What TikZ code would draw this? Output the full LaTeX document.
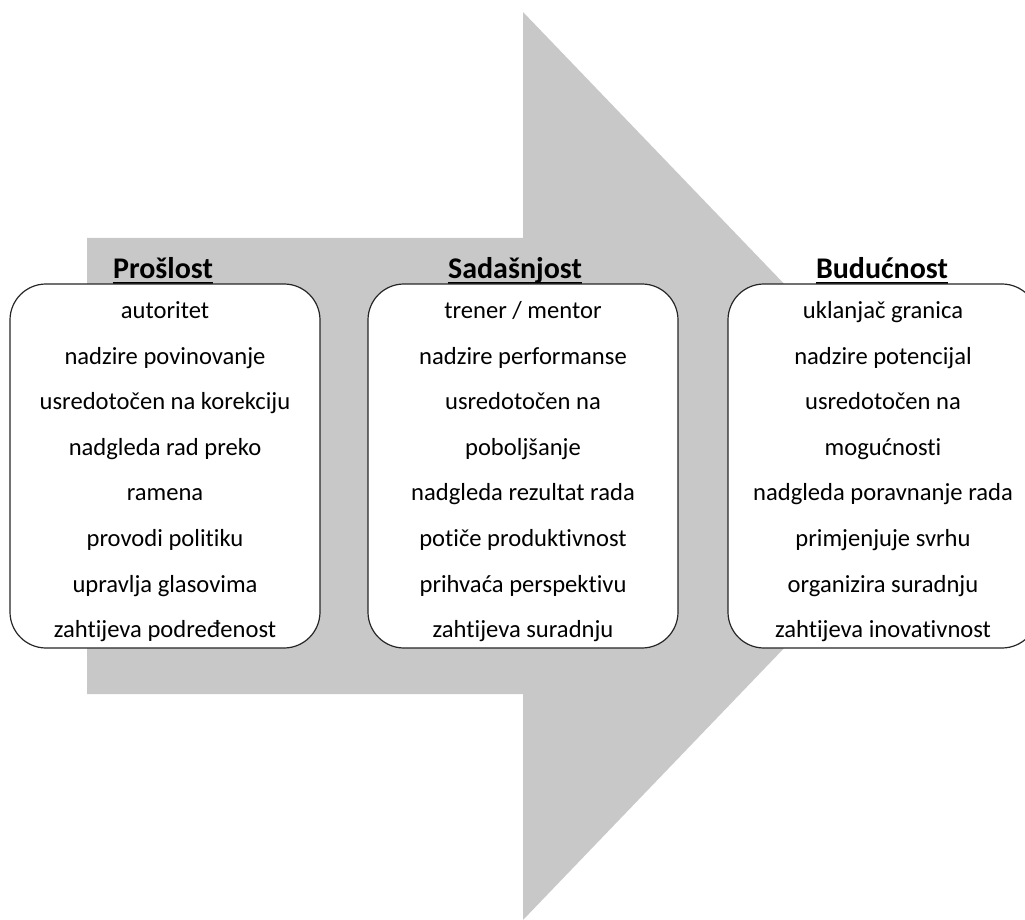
\documentclass[tikz,border=0pt]{standalone}
\usepackage{fontspec}
\setmainfont[Ligatures=NoCommon]{Carlito}
\usetikzlibrary{positioning}
\definecolor{arrowgray}{RGB}{200,200,200}
\begin{document}
\begin{tikzpicture}[x=0.5pt,y=-0.5pt,
  era/.style={draw=black!85,line width=0.6pt,fill=white,rounded corners=18pt,minimum width=155pt,minimum height=182pt,inner sep=0pt},
  eralist/.style={align=center,inner sep=0pt,font=\fontsize{12.3}{22.8}\selectfont},
  eratitle/.style={anchor=base,inner xsep=0pt,font=\fontsize{15}{18}\selectfont\bfseries}]
  \useasboundingbox (0,0) rectangle (1025,920);
  % big arrow behind the boxes
  \fill[arrowgray] (87,238) -- (523,238) -- (523,12) -- (959,466) -- (523,920) -- (523,694) -- (87,694) -- cycle;

  \node[eratitle] (pasttitle) at (163,279) {Prošlost};
  \node[eratitle] (presenttitle) at (515,279) {Sadašnjost};
  \node[eratitle] (futuretitle) at (882,279) {Budućnost};
  \foreach \t in {pasttitle,presenttitle,futuretitle}
    \draw[line width=0.9pt] ([yshift=-2pt]\t.base west) -- ([yshift=-2pt]\t.base east);

  \node[era] (past) at (165,466) {};
  \node[era] (present) at (523,466) {};
  \node[era] (future) at (883,466) {};

  \node[eralist] (pastlist) at ([yshift=-1.5pt]past.center) {\strut autoritet\\nadzire povinovanje\\usredotočen na korekciju\\nadgleda rad preko\\ramena\\provodi politiku\\upravlja glasovima\\zahtijeva podređenost\strut};
  \node[eralist] (presentlist) at ([yshift=-1.5pt]present.center) {\strut trener / mentor\\nadzire performanse\\usredotočen na\\poboljšanje\\nadgleda rezultat rada\\potiče produktivnost\\prihvaća perspektivu\\zahtijeva suradnju\strut};
  \node[eralist] (futurelist) at ([yshift=-1.5pt]future.center) {\strut uklanjač granica\\nadzire potencijal\\usredotočen na\\mogućnosti\\nadgleda poravnanje rada\\primjenjuje svrhu\\organizira suradnju\\zahtijeva inovativnost\strut};
\end{tikzpicture}
\end{document}
